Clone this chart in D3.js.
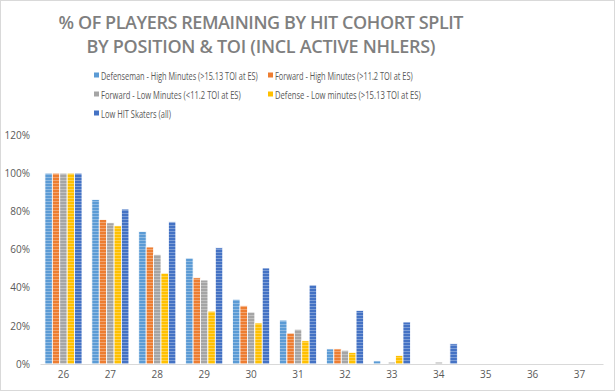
<!DOCTYPE html>
<html><head><meta charset="utf-8">
<script src="https://cdn.jsdelivr.net/npm/d3@7"></script>
<style>body{margin:0;background:#fff}svg{display:block}</style>
</head><body><svg id="c" width="615" height="391"></svg>
<script>
const categories = ["26","27","28","29","30","31","32","33","34","35","36","37"];
const seriesNames = [
  "Defenseman - High Minutes (>15.13 TOI at ES)",
  "Forward - High Minutes (>11.2 TOI at ES)",
  "Forward - Low Minutes (<11.2 TOI at ES)",
  "Defense - Low minutes  (>15.13 TOI at ES)",
  "Low HIT Skaters (all)"
];
const defHigh = [100, 86.2, 69.5, 55.5, 33.9, 23.0, 7.9, 1.6, 0, 0, 0, 0];
const fwdHigh = [100, 75.7, 61.3, 45.2, 30.5, 16.2, 7.9, 0, 0, 0, 0, 0];
const fwdLow  = [100, 74.0, 57.4, 44.0, 27.2, 18.2, 7.2, 1.0, 1.0, 0, 0, 0];
const defLow  = [100, 72.4, 47.6, 27.7, 21.5, 12.2, 6.1, 4.5, 0, 0, 0, 0];
const lowHit  = [100, 81.2, 74.5, 60.9, 50.3, 41.4, 28.1, 22.0, 10.6, 0, 0, 0];
const yTicks = [0, 20, 40, 60, 80, 100, 120];
const colors = ["#5B9BD5", "#ED7D31", "#A5A5A5", "#FFC000", "#4472C4"];
const seriesValues = [defHigh, fwdHigh, fwdLow, defLow, lowHit];

const svg = d3.select("#c");
svg.append("rect").attr("x",0.5).attr("y",0.5).attr("width",614).attr("height",390)
  .attr("fill","#fff").attr("stroke","#d9d9d9");

const defs = svg.append("defs");
colors.forEach((c,i)=>{
  const p = defs.append("pattern").attr("id","p"+i).attr("patternUnits","userSpaceOnUse")
    .attr("width",4).attr("height",3);
  p.append("rect").attr("width",4).attr("height",3).attr("fill",c);
  p.append("rect").attr("y",0).attr("width",4).attr("height",1).attr("fill","#fff").attr("opacity",0.3);
});

const font = "'Open Sans', 'Liberation Sans', sans-serif";
const txt = "#595959";

// title
const title = ["% OF PLAYERS REMAINING BY HIT COHORT SPLIT", "BY POSITION & TOI (INCL ACTIVE NHLERS)"];
const tW = [405, 349], tY = [29, 53];
title.forEach((t,i)=>{
  svg.append("text").attr("x",261).attr("y",tY[i]).attr("text-anchor","middle")
    .attr("font-family",font).attr("font-weight",600).attr("font-size",18)
    .attr("fill","#7f7f7f").attr("textLength",tW[i]).attr("lengthAdjust","spacing").text(t);
});

// legend
const legPos = [[94,76,157],[268,76,138],[94,95,140],[268,95,146],[94,114,70]];
seriesNames.forEach((n,i)=>{
  const [x,y,w] = legPos[i];
  svg.append("rect").attr("x",x).attr("y",y-3.5).attr("width",5).attr("height",5).attr("fill",colors[i]);
  const t = svg.append("text").attr("font-family",font).attr("font-size",10)
    .attr("fill",txt).text(n);
  const nat = t.node().getComputedTextLength();
  const s = Math.min(1, w / nat);
  t.attr("transform",`translate(${x+7},${y+3.5}) scale(${s},1)`);
});

const x0 = d3.scaleBand().domain(categories).range([40,603]).paddingInner(0.21).paddingOuter(0.105);
const x1 = d3.scaleBand().domain(d3.range(5)).range([0,x0.bandwidth()]);
const y = d3.scaleLinear().domain([0,120]).range([364,135]);

// y axis labels
const ya = svg.append("g").attr("transform","translate(33,0)")
  .call(d3.axisLeft(y).tickValues(yTicks).tickSize(0).tickFormat(d=>d+"%"));
ya.select(".domain").remove();
ya.selectAll("text").attr("font-family",font).attr("font-size",10).attr("fill",txt);

// bars
const g = svg.append("g");
categories.forEach((c,ci)=>{
  seriesValues.forEach((vals,si)=>{
    const v = vals[ci];
    if (v <= 0) return;
    g.append("rect").attr("x",x0(c)+x1(si)).attr("y",y(v))
      .attr("width",x1.bandwidth()).attr("height",y(0)-y(v))
      .attr("fill","url(#p"+si+")").attr("stroke","#fff").attr("stroke-width",0.8);
  });
});

// x axis
const xa = svg.append("g").attr("transform","translate(0,364)")
  .call(d3.axisBottom(x0).tickSize(0).tickPadding(7));
xa.select(".domain").attr("stroke","#d9d9d9");
xa.selectAll("text").attr("font-family",font).attr("font-size",10).attr("fill",txt);
</script></body></html>
